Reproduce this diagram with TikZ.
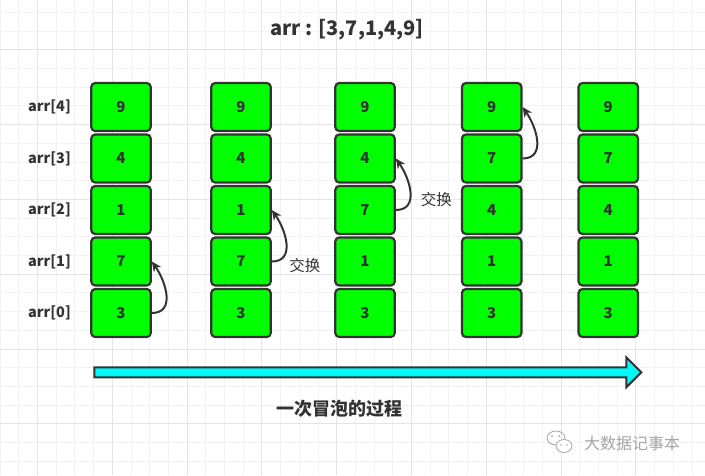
\documentclass[tikz,border=0pt]{standalone}
\usepackage{fontspec}
\setmainfont{Noto Sans CJK SC}
\usepackage{xcolor}
\usetikzlibrary{positioning,arrows.meta,shapes.arrows}
\definecolor{ink}{RGB}{51,51,51}
\definecolor{cellgreen}{RGB}{0,255,0}
\definecolor{flowcyan}{RGB}{0,250,250}
\definecolor{gridminor}{RGB}{242,242,242}
\definecolor{gridmajor}{RGB}{228,228,228}
\definecolor{wmgray}{RGB}{165,165,165}

\begin{document}
\begin{tikzpicture}[x=1pt, y=-1pt,
    cell/.style={draw=ink, fill=cellgreen, line width=2.2pt, rounded corners=4pt,
                 minimum width=59.5pt, minimum height=48pt, inner sep=0pt,
                 text=ink, font=\bfseries\fontsize{15}{17}\selectfont},
    rowlbl/.style={text=ink, font=\bfseries\fontsize{14.5}{17}\selectfont},
    swap/.style={draw=ink, line width=2pt, -{Stealth[length=10pt,width=9pt]}},
    swaplbl/.style={text=ink, font=\fontsize{15.5}{17}\selectfont}]
  \useasboundingbox (0,0) rectangle (705,475);
  \fill[white] (0,0) rectangle (705,475);
  % grid paper
  \foreach \k in {0,...,37}
    \draw[gridminor, line width=0.7pt] (18.7*\k,0) -- (18.7*\k,475);
  \foreach \k in {0,...,24}
    \draw[gridminor, line width=0.7pt] (0,12.3+18.7*\k) -- (705,12.3+18.7*\k);
  \foreach \k in {2,6,...,34}
    \draw[gridmajor, line width=0.8pt] (18.7*\k,0) -- (18.7*\k,475);
  \foreach \k in {2,6,...,22}
    \draw[gridmajor, line width=0.8pt] (0,12.3+18.7*\k) -- (705,12.3+18.7*\k);

  \node[text=ink, font=\bfseries\fontsize{20}{24}\selectfont] (title) at (347,30) {arr : [3,7,1,4,9]};

  % row labels
  \foreach \r in {0,...,4}
    \node[rowlbl] (lbl\r) at (49.5,{313-51.5*\r}) {arr[\r]};

  % the five states of the array
  \foreach \c/\x/\va/\vb/\vc/\vd/\ve in {1/121/3/7/1/4/9, 2/241/3/7/1/4/9,
      3/365/3/1/7/4/9, 4/491.7/3/1/4/7/9, 5/608.3/3/1/4/7/9}
    \foreach \r/\v in {0/\va, 1/\vb, 2/\vc, 3/\vd, 4/\ve}
      \node[cell] (c\c r\r) at (\x,{313-51.5*\r}) {\v};

  % swaps
  \draw[swap] (c1r0.east) to[out=0, in=-55, looseness=1.2] (c1r1.east);
  \draw[swap] (c2r1.east) to[out=0, in=-55, looseness=1.2] (c2r2.east);
  \draw[swap] (c3r2.east) to[out=0, in=-55, looseness=1.2] (c3r3.east);
  \draw[swap] (c4r3.east) to[out=0, in=-55, looseness=1.2] (c4r4.east);
  \node[swaplbl, right=14pt of c2r1.east, yshift=-4.5pt] (swap2) {交换};
  \node[swaplbl, right=21.5pt of c3r2.east, yshift=10pt] (swap3) {交换};

  % direction of one pass
  \node[single arrow, draw=ink, fill=flowcyan, line width=2pt, inner sep=4pt,
        minimum height=547pt, minimum width=28pt, single arrow head extend=10pt]
        (flow) at (365.3,372.3) {};
  \node[text=ink, font=\bfseries\fontsize{18}{22}\selectfont] (caption) at (339,409) {一次冒泡的过程};

  % watermark
  \draw[wmgray, line width=0.8pt] (556,438) ellipse (9 and 7);
  \filldraw[wmgray, fill=white, line width=0.8pt] (564,446) ellipse (8 and 6.5);
  \fill[wmgray] (552,436) circle (1) (559,436) circle (1) (561,445) circle (0.8) (567,445) circle (0.8);
  \node[text=wmgray, font=\fontsize{16}{18}\selectfont] (mark) at (632,443) {大数据记事本};
\end{tikzpicture}
\end{document}
